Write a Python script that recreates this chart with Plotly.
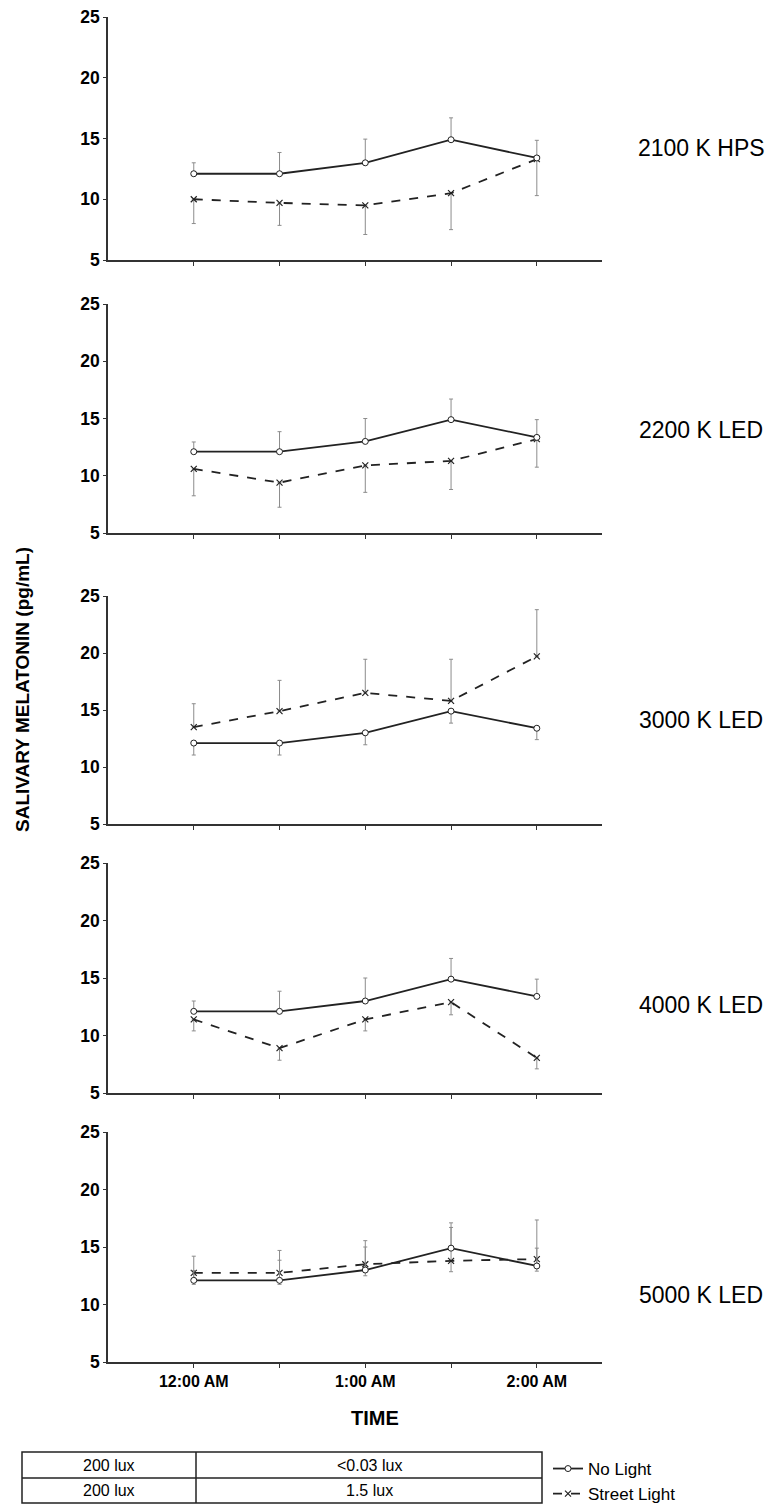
import plotly.graph_objects as go

# ---------------- data ----------------
time_idx = [0, 1, 2, 3, 4]
tick_text = ["12:00 AM", "", "1:00 AM", "", "2:00 AM"]
panel_labels = ["2100 K HPS", "2200 K LED", "3000 K LED", "4000 K LED", "5000 K LED"]

no_light_y = [
    [12.1, 12.1, 13.0, 14.9, 13.4],
    [12.1, 12.1, 13.0, 14.9, 13.35],
    [12.1, 12.1, 13.0, 14.9, 13.4],
    [12.1, 12.1, 13.0, 14.9, 13.4],
    [12.1, 12.1, 13.0, 14.9, 13.35],
]
no_light_plus = [
    [0.9, 1.75, 1.95, 1.8, 1.45],
    [0.85, 1.75, 2.0, 1.8, 1.55],
    [0, 0, 0, 0, 0],
    [0.9, 1.75, 2.0, 1.8, 1.5],
    [0.85, 1.75, 2.0, 1.8, 1.55],
]
no_light_minus = [
    [0, 0, 0, 0, 0],
    [0, 0, 0, 0, 0],
    [1.05, 1.05, 1.05, 1.05, 1.0],
    [0, 0, 0, 0, 0],
    [0, 0, 0, 0, 0],
]
street_y = [
    [10.0, 9.7, 9.5, 10.5, 13.3],
    [10.6, 9.4, 10.9, 11.3, 13.2],
    [13.5, 14.9, 16.5, 15.8, 19.7],
    [11.4, 8.9, 11.4, 12.9, 8.05],
    [12.75, 12.75, 13.5, 13.8, 13.95],
]
street_plus = [
    [0, 0, 0, 0, 0],
    [0, 0, 0, 0, 0],
    [2.05, 2.7, 2.95, 3.65, 4.1],
    [0, 0, 0, 0, 0],
    [1.45, 1.95, 2.05, 3.3, 3.4],
]
street_minus = [
    [2.0, 1.85, 2.4, 3.0, 3.0],
    [2.35, 2.15, 2.35, 2.5, 2.45],
    [0, 0, 0, 0, 0],
    [1.0, 1.05, 1.0, 1.1, 0.95],
    [1.0, 1.0, 1.0, 0.95, 1.05],
]
y_ticks = [5, 10, 15, 20, 25]
table_rows = [["200 lux", "<0.03 lux"], ["200 lux", "1.5 lux"]]
series_names = ["No Light", "Street Light"]

# ---------------- layout geometry (pixels) ----------------
W, H = 768, 1506
panel_px = [(17, 260), (304, 533), (596, 824), (863, 1093), (1132, 1362)]
x_px = (108, 602)
label_y_px = [148, 430, 720, 1005, 1295]

def py(p):
    return 1 - p / H

def px(p):
    return p / W

FONT = "Arial, Liberation Sans, sans-serif"
AX = "#333333"
ERR = "#8c8c8c"

fig = go.Figure()
layout = dict(
    width=W, height=H, autosize=False,
    margin=dict(l=0, r=0, t=0, b=0, pad=0, autoexpand=False),
    paper_bgcolor="white", plot_bgcolor="white",
    font=dict(family=FONT, color="black"),
    showlegend=True,
)

for i in range(5):
    sfx = "" if i == 0 else str(i + 1)
    xa, ya = "x" + sfx, "y" + sfx
    fig.add_trace(go.Scatter(
        x=time_idx, y=street_y[i], xaxis=xa, yaxis=ya,
        name=series_names[1], legendrank=2, showlegend=(i == 0),
        mode="lines+markers",
        line=dict(color="#222222", width=1.8, dash="dash"),
        marker=dict(symbol="x-thin-open", size=6, line=dict(color="#222222", width=1.2)),
        error_y=dict(type="data", symmetric=False, array=street_plus[i],
                     arrayminus=street_minus[i], color=ERR, thickness=1, width=2),
    ))
    fig.add_trace(go.Scatter(
        x=time_idx, y=no_light_y[i], xaxis=xa, yaxis=ya,
        name=series_names[0], legendrank=1, showlegend=(i == 0),
        mode="lines+markers",
        line=dict(color="#222222", width=1.8),
        marker=dict(symbol="circle", size=6, color="white", line=dict(color="#222222", width=1)),
        error_y=dict(type="data", symmetric=False, array=no_light_plus[i],
                     arrayminus=no_light_minus[i], color=ERR, thickness=1, width=2),
    ))
    top, bot = panel_px[i]
    layout["xaxis" + sfx] = dict(
        domain=[px(x_px[0]), px(x_px[1])], anchor=ya,
        range=[-1, 4.76], tickvals=time_idx,
        ticktext=tick_text if i == 4 else [""] * 5,
        showline=True, linecolor=AX, linewidth=1.5,
        ticks="outside", ticklen=4, tickcolor=AX, tickwidth=1.2,
        showgrid=False, zeroline=False, automargin=False,
        tickfont=dict(family=FONT, size=16, color="black", weight="bold"),
    )
    layout["yaxis" + sfx] = dict(
        domain=[py(bot), py(top)], anchor=xa,
        range=[5, 25], tickvals=y_ticks,
        showline=True, linecolor=AX, linewidth=1.5,
        ticks="outside", ticklen=3, tickcolor=AX, tickwidth=1.2,
        showgrid=False, zeroline=False, automargin=False,
        tickfont=dict(family=FONT, size=17.5, color="black", weight="bold"),
    )

annotations = []
for i, lab in enumerate(panel_labels):
    annotations.append(dict(
        text=lab, xref="paper", yref="paper", x=px(701), y=py(label_y_px[i]),
        xanchor="center", yanchor="middle", showarrow=False,
        font=dict(family=FONT, size=23, color="black"),
    ))
annotations.append(dict(
    text="<b>SALIVARY MELATONIN (pg/mL)</b>", xref="paper", yref="paper",
    x=px(22), y=py(690), textangle=-90, xanchor="center", yanchor="middle",
    showarrow=False, font=dict(family=FONT, size=19, color="black"),
))
annotations.append(dict(
    text="<b>TIME</b>", xref="paper", yref="paper", x=px(375), y=py(1418),
    xanchor="center", yanchor="middle", showarrow=False,
    font=dict(family=FONT, size=20, color="black"),
))

# table
t_left, t_mid, t_right = 22, 196, 542
t_top, t_rowdiv, t_bot = 1452, 1478, 1503
shapes = [
    dict(type="rect", xref="paper", yref="paper", x0=px(t_left), x1=px(t_right),
         y0=py(t_bot), y1=py(t_top), line=dict(color="#222222", width=1.5)),
    dict(type="line", xref="paper", yref="paper", x0=px(t_left), x1=px(t_right),
         y0=py(t_rowdiv), y1=py(t_rowdiv), line=dict(color="#222222", width=1.5)),
    dict(type="line", xref="paper", yref="paper", x0=px(t_mid), x1=px(t_mid),
         y0=py(t_bot), y1=py(t_top), line=dict(color="#222222", width=1.5)),
]
row_centers = [(t_top + t_rowdiv) / 2, (t_rowdiv + t_bot) / 2]
col_centers = [(t_left + t_mid) / 2, (t_mid + t_right) / 2]
for r, row in enumerate(table_rows):
    for c, cell in enumerate(row):
        annotations.append(dict(
            text=cell, xref="paper", yref="paper", x=px(col_centers[c]), y=py(row_centers[r]),
            xanchor="center", yanchor="middle", showarrow=False,
            font=dict(family=FONT, size=16, color="black"),
        ))

layout["annotations"] = annotations
layout["shapes"] = shapes
layout["legend"] = dict(
    x=px(548), y=py(1451), xanchor="left", yanchor="top",
    bgcolor="rgba(0,0,0,0)", font=dict(family=FONT, size=17, color="black"),
    itemwidth=30, tracegroupgap=0, traceorder="normal",
)
fig.update_layout(**layout)
fig.write_html(
    "out.html",
    config={"displayModeBar": False, "responsive": False},
    post_script="document.body.style.margin='0';document.body.style.overflow='hidden';",
)
